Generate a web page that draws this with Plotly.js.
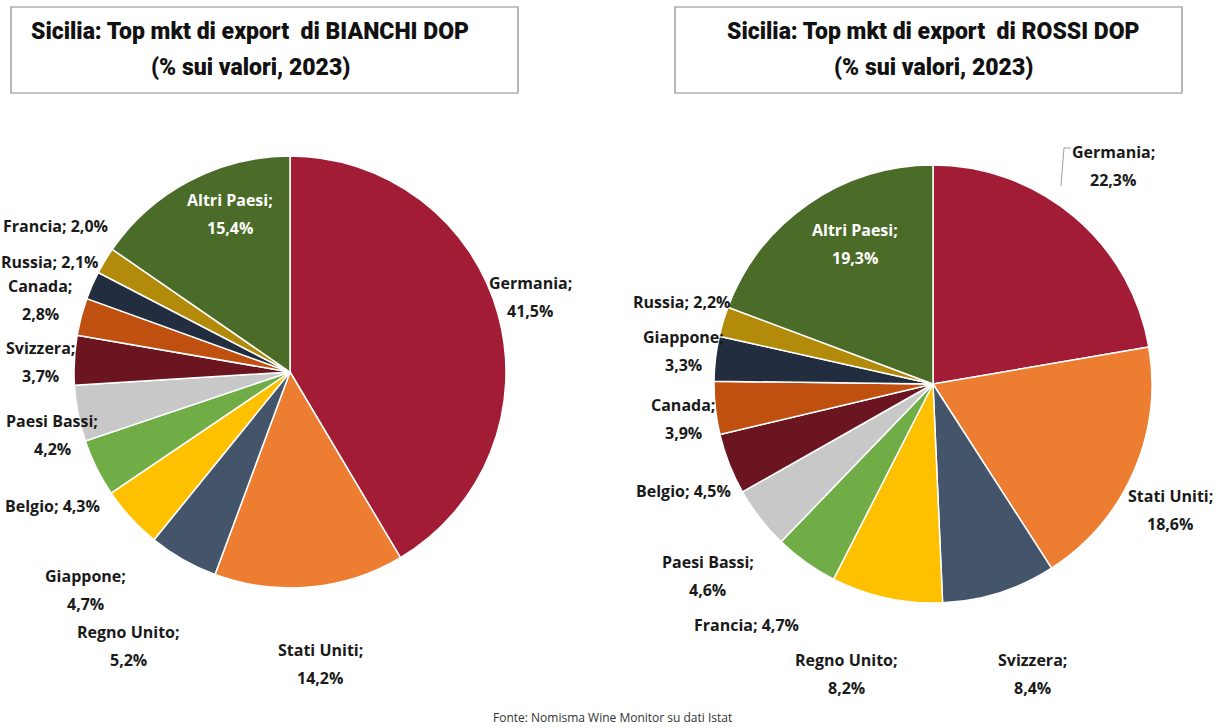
<!DOCTYPE html>
<html>
<head>
<meta charset="utf-8">
<script src="https://cdn.plot.ly/plotly-3.0.1.min.js"></script>
<style>
  html, body { margin: 0; padding: 0; background: #ffffff; }
  #chart { width: 1219px; height: 728px; }
</style>
</head>
<body>
<div id="chart"></div>
<script>
// ---- Data ----
const titleBianchi = "Sicilia: Top mkt di export  di BIANCHI DOP";
const titleRossi = "Sicilia: Top mkt di export  di ROSSI DOP";
const subtitle = "(% sui valori, 2023)";
const source = "Fonte: Nomisma Wine Monitor su dati Istat";

const bianchiLabels = ["Germania", "Stati Uniti", "Regno Unito", "Giappone", "Belgio", "Paesi Bassi", "Svizzera", "Canada", "Russia", "Francia", "Altri Paesi"];
const bianchiValues = [41.5, 14.2, 5.2, 4.7, 4.3, 4.2, 3.7, 2.8, 2.1, 2.0, 15.4];

const rossiLabels = ["Germania", "Stati Uniti", "Svizzera", "Regno Unito", "Francia", "Paesi Bassi", "Belgio", "Canada", "Giappone", "Russia", "Altri Paesi"];
const rossiValues = [22.3, 18.6, 8.4, 8.2, 4.7, 4.6, 4.5, 3.9, 3.3, 2.2, 19.3];

// ---- Styles ----
const bianchiColors = ["#A31C35", "#ED7D31", "#44546A", "#FFC000", "#70AD47", "#C8C8C8", "#6A1520", "#C0500F", "#222E40", "#B38B0A", "#4B6B29"];
const rossiColors   = ["#A31C35", "#ED7D31", "#44546A", "#FFC000", "#70AD47", "#C8C8C8", "#6A1520", "#C0500F", "#222E40", "#B38B0A", "#4B6B29"];

const W = 1219, H = 728;
const px = x => x / W;
const py = y => 1 - y / H;

// label placement (pixel centre, one-line flag, colour) — per slice index
const bianchiLabelPos = [
  [530, 297, false, "#1a1a1a"],
  [320, 664, false, "#1a1a1a"],
  [128, 646, false, "#1a1a1a"],
  [85, 590, false, "#1a1a1a"],
  [52, 506, true, "#1a1a1a"],
  [52, 435, false, "#1a1a1a"],
  [40, 362, false, "#1a1a1a"],
  [40, 300, false, "#1a1a1a"],
  [50, 262, true, "#1a1a1a"],
  [55, 226, true, "#1a1a1a"],
  [230, 214, false, "#ffffff"]
];
const rossiLabelPos = [
  [1113, 166, false, "#1a1a1a"],
  [1170, 510, false, "#1a1a1a"],
  [1032, 674, false, "#1a1a1a"],
  [847, 674, false, "#1a1a1a"],
  [746, 625, true, "#1a1a1a"],
  [708, 576, false, "#1a1a1a"],
  [683, 491, true, "#1a1a1a"],
  [683, 419, false, "#1a1a1a"],
  [683, 351, false, "#1a1a1a"],
  [682, 302, true, "#1a1a1a"],
  [855, 244, false, "#ffffff"]
];

const fmt = v => v.toFixed(1).replace(".", ",") + "%";
const labelFont = { family: "Open Sans, Arial, sans-serif", size: 16, weight: 700 };

function pieDomain(cx, cy, r) {
  return { x: [px(cx - r), px(cx + r)], y: [py(cy + r), py(cy - r)] };
}

const traces = [
  {
    type: "pie",
    labels: bianchiLabels,
    values: bianchiValues,
    sort: false,
    direction: "clockwise",
    rotation: 0,
    textinfo: "none",
    hoverinfo: "label+percent",
    marker: { colors: bianchiColors, line: { color: "#ffffff", width: 1.5 } },
    domain: pieDomain(290, 372, 216),
    showlegend: false
  },
  {
    type: "pie",
    labels: rossiLabels,
    values: rossiValues,
    sort: false,
    direction: "clockwise",
    rotation: 0,
    textinfo: "none",
    hoverinfo: "label+percent",
    marker: { colors: rossiColors, line: { color: "#ffffff", width: 1.5 } },
    domain: pieDomain(933, 384, 219),
    showlegend: false
  }
];

const annotations = [];
function addLabels(labels, values, pos) {
  labels.forEach((lab, i) => {
    const [x, y, oneLine, color] = pos[i];
    const f = Object.assign({}, labelFont, { color: color });
    if (oneLine) {
      annotations.push({ xref: "paper", yref: "paper", x: px(x), y: py(y), text: lab + "; " + fmt(values[i]),
        showarrow: false, xanchor: "center", yanchor: "middle", font: f });
    } else {
      annotations.push({ xref: "paper", yref: "paper", x: px(x), y: py(y - 14), text: lab + ";",
        showarrow: false, xanchor: "center", yanchor: "middle", font: f });
      annotations.push({ xref: "paper", yref: "paper", x: px(x), y: py(y + 14), text: fmt(values[i]),
        showarrow: false, xanchor: "center", yanchor: "middle", font: f });
    }
  });
}
addLabels(bianchiLabels, bianchiValues, bianchiLabelPos);
addLabels(rossiLabels, rossiValues, rossiLabelPos);

const titleFont = { family: "Roboto, Open Sans, Arial, sans-serif", size: 23, weight: 900, color: "#111111" };
[[250, titleBianchi], [933, titleRossi]].forEach(([cx, t]) => {
  annotations.push({ xref: "paper", yref: "paper", x: px(cx), y: py(32), text: t, showarrow: false,
    xanchor: "center", yanchor: "middle", font: titleFont });
  annotations.push({ xref: "paper", yref: "paper", x: px(cx), y: py(67), text: subtitle, showarrow: false,
    xanchor: "center", yanchor: "middle", font: titleFont });
});
annotations.push({ xref: "paper", yref: "paper", x: px(612), y: py(717), text: source, showarrow: false,
  xanchor: "center", yanchor: "middle", font: { family: "Open Sans, Arial, sans-serif", size: 12, color: "#333333" } });

const shapes = [
  { type: "rect", xref: "paper", yref: "paper", x0: px(11), x1: px(518), y0: py(93), y1: py(7),
    line: { color: "#8a8a8a", width: 1.2 }, fillcolor: "rgba(0,0,0,0)" },
  { type: "rect", xref: "paper", yref: "paper", x0: px(675), x1: px(1182), y0: py(93), y1: py(7),
    line: { color: "#8a8a8a", width: 1.2 }, fillcolor: "rgba(0,0,0,0)" },
  // leader line for the Germania (ROSSI) label
  { type: "path", xref: "paper", yref: "paper",
    path: "M " + px(1071) + " " + py(148) + " L " + px(1064) + " " + py(148) + " L " + px(1061) + " " + py(186),
    line: { color: "#a0a0a0", width: 1 } }
];

const layout = {
  width: W,
  height: H,
  margin: { l: 0, r: 0, t: 0, b: 0 },
  paper_bgcolor: "#ffffff",
  plot_bgcolor: "#ffffff",
  showlegend: false,
  annotations: annotations,
  shapes: shapes
};

Plotly.newPlot("chart", traces, layout, { displayModeBar: false, staticPlot: true });
</script>
</body>
</html>
